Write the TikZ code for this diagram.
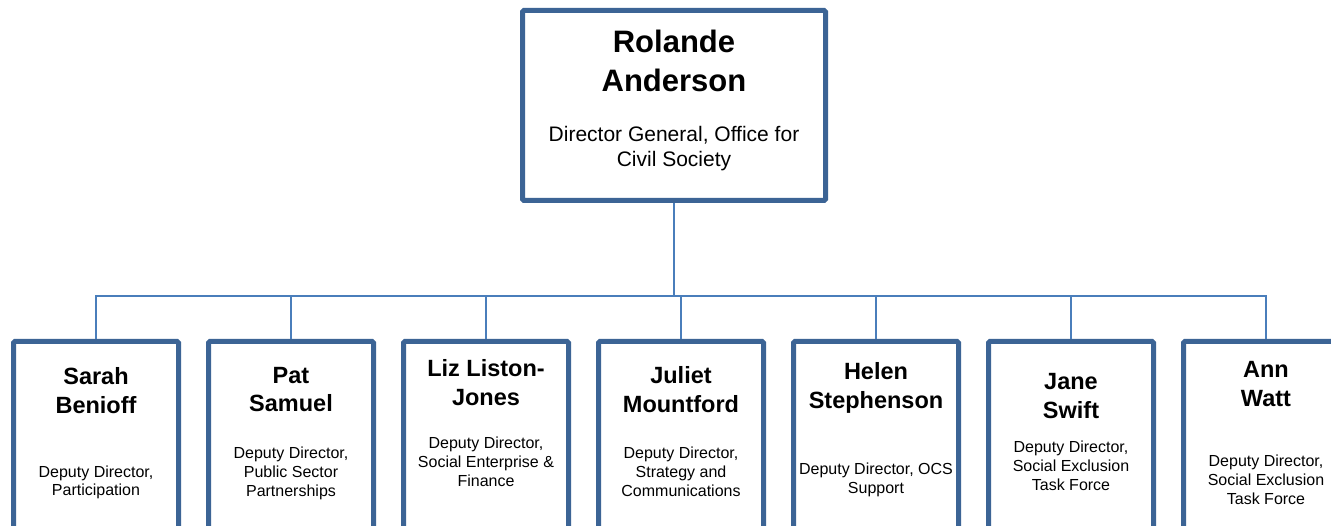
\documentclass[tikz,border=0pt]{standalone}
\usepackage{fontspec}
\setmainfont{Liberation Sans}
\newcommand\stk[1]{\vtop{\halign{\hfil##\hfil\cr#1\crcr}}}
\definecolor{boxblue}{HTML}{3C6495}
\definecolor{linkblue}{HTML}{4A7EBB}
\begin{document}
\begin{tikzpicture}[x=1pt,y=-1pt,
  orgbox/.style={draw=boxblue, line width=5pt, fill=white, rounded corners=1.5pt, inner sep=0pt, anchor=north},
  subbox/.style={orgbox, minimum width=165pt, minimum height=230pt},
  conn/.style={draw=linkblue, line width=1.8pt},
  bigname/.style={anchor=base, inner sep=0pt, font=\fontsize{31}{38.5}\selectfont\bfseries},
  bigrole/.style={anchor=base, inner sep=0pt, font=\fontsize{21}{25}\selectfont},
  pname/.style={anchor=base, inner sep=0pt, font=\fontsize{23.5}{28.5}\selectfont\bfseries},
  prole/.style={anchor=base, inner sep=0pt, font=\fontsize{16}{18.8}\selectfont}]
\clip (0,0) rectangle (1331,526);
\fill[white] (0,0) rectangle (1331,526);
\coordinate (bus) at (674,296);
% boxes
\node[orgbox, minimum width=303pt, minimum height=190pt] (rol) at (674,8) {};
\node[subbox] (sar) at (96,339) {};
\node[subbox] (pat) at (291,339) {};
\node[subbox] (liz) at (486,339) {};
\node[subbox] (jul) at (681,339) {};
\node[subbox] (hel) at (876,339) {};
\node[subbox] (jan) at (1071,339) {};
\node[subbox] (ann) at (1266,339) {};
% connectors
\foreach \c in {sar,pat,liz,jul,hel,jan,ann}
  \draw[conn] (rol.south) -- (rol.south |- bus) -| (\c.north);
% texts
\node[bigname] (rolN) at (674,53) {\stk{Rolande\cr Anderson}};
\node[bigrole] (rolR) at (674,142) {\stk{Director General, Office for\cr Civil Society}};
\node[pname] (sarN) at (96,385) {\stk{Sarah\cr Benioff}};
\node[prole] (sarR) at (96,477) {\stk{Deputy Director,\cr Participation}};
\node[pname] (patN) at (291,383.5) {\stk{Pat\cr Samuel}};
\node[prole] (patR) at (291,459) {\stk{Deputy Director,\cr Public Sector\cr Partnerships}};
\node[pname] (lizN) at (486,377) {\stk{Liz Liston-\cr Jones}};
\node[prole] (lizR) at (486,448.5) {\stk{Deputy Director,\cr Social Enterprise \&\cr Finance}};
\node[pname] (julN) at (681,384) {\stk{Juliet\cr Mountford}};
\node[prole] (julR) at (681,458.5) {\stk{Deputy Director,\cr Strategy and\cr Communications}};
\node[pname] (helN) at (876,380) {\stk{Helen\cr Stephenson}};
\node[prole] (helR) at (876,475) {\stk{Deputy Director, OCS\cr Support}};
\node[pname] (janN) at (1071,390) {\stk{Jane\cr Swift}};
\node[prole] (janR) at (1071,453) {\stk{Deputy Director,\cr Social Exclusion\cr Task Force}};
\node[pname] (annN) at (1266,377.5) {\stk{Ann\cr Watt}};
\node[prole] (annR) at (1266,467) {\stk{Deputy Director,\cr Social Exclusion\cr Task Force}};
\end{tikzpicture}
\end{document}
